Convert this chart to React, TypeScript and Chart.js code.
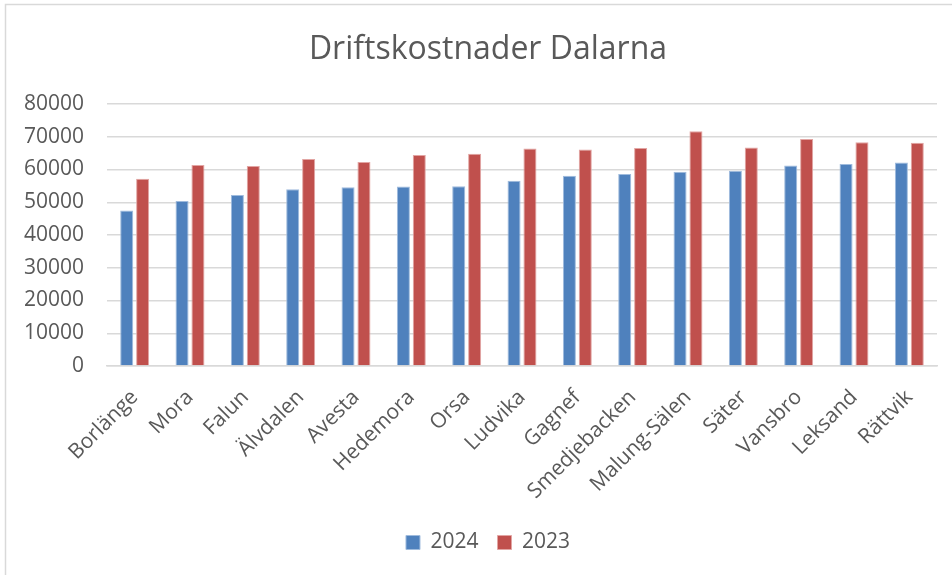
import React, { useEffect, useRef } from "react";
import { Chart, registerables } from "chart.js";

Chart.register(...registerables);

const categories = [
  "Borlänge", "Mora", "Falun", "Älvdalen", "Avesta", "Hedemora", "Orsa", "Ludvika",
  "Gagnef", "Smedjebacken", "Malung-Sälen", "Säter", "Vansbro", "Leksand", "Rättvik",
];
const values2024 = [47500, 50400, 52200, 54000, 54600, 54800, 54900, 56600, 58100, 58600, 59300, 59600, 61200, 61700, 62100];
const values2023 = [57200, 61400, 61100, 63200, 62300, 64400, 64800, 66400, 66100, 66600, 71700, 66700, 69300, 68300, 68200];
const seriesLabels = ["2024", "2023"];
const titleText = "Driftskostnader Dalarna";

const FONT = "'Open Sans', 'Noto Sans', sans-serif";
const TEXT = "#595959";

const borderPlugin = {
  id: "outerBorder",
  beforeDraw(chart: any) {
    const ctx = chart.ctx;
    ctx.save();
    ctx.fillStyle = "#ffffff";
    ctx.fillRect(0, 0, chart.width, chart.height);
    ctx.strokeStyle = "#d9d9d9";
    ctx.lineWidth = 1.5;
    ctx.strokeRect(5.5, 4.5, 2000, 2000);
    ctx.restore();
  },
};

export default function App() {
  const ref = useRef<HTMLCanvasElement | null>(null);
  useEffect(() => {
    if (!ref.current) return;
    const chart = new Chart(ref.current, {
      type: "bar",
      data: {
        labels: categories,
        datasets: [
          {
            label: seriesLabels[0],
            data: values2024,
            backgroundColor: "#4F81BD",
            borderColor: "#9fbbdd",
            borderWidth: 1,
            barPercentage: 0.82,
            categoryPercentage: 0.575,
          },
          {
            label: seriesLabels[1],
            data: values2023,
            backgroundColor: "#C0504D",
            borderColor: "#e2a5a3",
            borderWidth: 1,
            barPercentage: 0.82,
            categoryPercentage: 0.575,
          },
        ],
      },
      options: {
        animation: false,
        responsive: false,
        devicePixelRatio: 1,
        layout: { padding: { left: 0, right: 0, top: 0, bottom: 12 } },
        plugins: {
          title: {
            display: true,
            text: titleText,
            color: TEXT,
            font: { family: FONT, size: 32, weight: "normal" },
            padding: { top: 31, bottom: 34.6 },
          },
          legend: {
            position: "bottom",
            labels: {
              color: TEXT,
              font: { family: FONT, size: 21 },
              boxWidth: 14,
              boxHeight: 14,
              padding: 19,
            },
          },
          tooltip: { enabled: false },
        },
        scales: {
          x: {
            grid: { display: false, drawTicks: false },
            border: { display: true, color: "#d9d9d9", width: 1.5 },
            ticks: {
              color: TEXT,
              font: { family: FONT, size: 21 },
              maxRotation: 45,
              minRotation: 45,
              padding: 19,
              autoSkip: false,
            },
            afterFit(scale: any) {
              scale.height = 147;
            },
          },
          y: {
            min: 0,
            max: 80000,
            grid: { color: "#d9d9d9", lineWidth: 1.5, drawTicks: false },
            border: { display: false },
            ticks: {
              stepSize: 10000,
              color: TEXT,
              font: { family: FONT, size: 21 },
              padding: 23,
              callback: (v: any) => String(v),
            },
            afterFit(scale: any) {
              scale.width = 107;
            },
          },
          yRight: {
            position: "right",
            display: true,
            grid: { display: false, drawTicks: false },
            border: { display: false },
            ticks: { display: false },
            afterFit(scale: any) {
              scale.width = 39;
            },
          },
        },
      },
      plugins: [borderPlugin],
    });
    return () => chart.destroy();
  }, []);
  return (
    <div style={{ position: "fixed", left: 0, top: 0, width: 952, height: 575, overflow: "hidden", background: "#fff" }}>
      <canvas ref={ref} width={976} height={575} style={{ display: "block" }} />
    </div>
  );
}
